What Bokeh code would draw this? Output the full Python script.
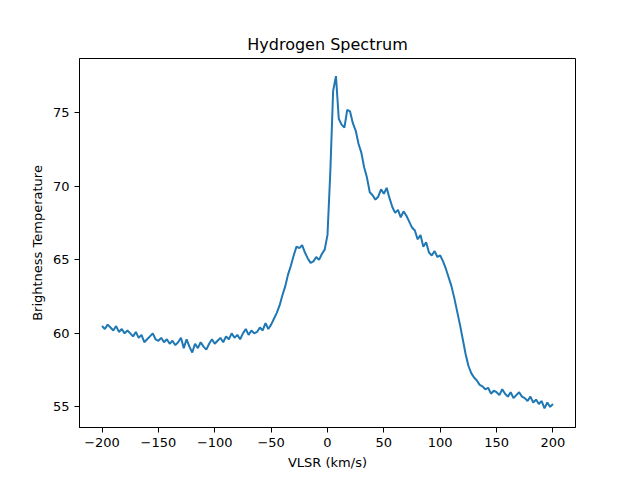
from bokeh.plotting import figure
from bokeh.models import Range1d, FixedTicker
from bokeh.embed import file_html
from bokeh.resources import INLINE

# velocity channels (km/s) and brightness temperature
velocity = [v * 2.5 for v in range(-80, 81)]
brightness = [
    60.5, 60.3, 60.6, 60.4, 60.2, 60.5, 60.1, 60.3, 60.0, 60.2,   # -200
    60.0, 59.8, 60.1, 59.7, 59.9, 59.4, 59.6, 59.8, 60.0, 59.6,   # -175
    59.5, 59.7, 59.4, 59.6, 59.3, 59.5, 59.2, 59.4, 59.7, 59.0,   # -150
    59.6, 59.1, 58.7, 59.3, 59.0, 59.4, 59.1, 58.9, 59.3, 59.6,   # -125
    59.3, 59.5, 59.7, 59.4, 59.8, 59.6, 60.0, 59.7, 59.9, 59.6,   # -100
    60.0, 60.3, 59.9, 60.2, 60.0, 60.1, 60.4, 60.2, 60.7, 60.3,   # -75
    60.6, 61.0, 61.4, 61.9, 62.6, 63.2, 64.0, 64.6, 65.3, 65.9,   # -50
    65.8, 66.0, 65.5, 65.1, 64.8, 64.9, 65.2, 65.0, 65.4, 65.7,   # -25
    66.7, 71.0, 76.5, 77.5, 74.6, 74.2, 74.0, 75.2, 75.1, 74.3,   # 0
    73.8, 72.9, 72.3, 71.3, 70.6, 69.6, 69.4, 69.1, 69.3, 69.8,   # 25
    69.5, 69.9, 69.2, 68.6, 68.2, 68.4, 67.9, 68.3, 68.0, 67.6,   # 50
    67.2, 67.0, 66.4, 66.7, 65.9, 66.2, 65.5, 65.3, 65.6, 65.2,   # 75
    65.3, 64.9, 64.4, 63.8, 63.2, 62.4, 61.5, 60.6, 59.6, 58.6,   # 100
    57.8, 57.3, 57.0, 56.8, 56.5, 56.4, 56.2, 56.3, 55.9, 56.1,   # 125
    56.0, 55.8, 56.2, 55.9, 55.7, 56.0, 55.6, 55.8, 56.0, 55.7,   # 150
    55.6, 55.4, 55.7, 55.3, 55.5, 55.2, 55.4, 54.9, 55.3, 55.0,   # 175
    55.2,                                                         # 200
]
x_ticks = [-200, -150, -100, -50, 0, 50, 100, 150, 200]
y_ticks = [55, 60, 65, 70, 75]

FONT = "DejaVu Sans"

p = figure(frame_width=496, frame_height=369, output_backend="svg",
           toolbar_location=None, title="Hydrogen Spectrum",
           x_range=Range1d(-220, 220), y_range=Range1d(53.6, 78.7),
           min_border_left=79, min_border_right=40, min_border_top=58,
           min_border_bottom=30)

p.line(velocity, brightness, line_color="#1f77b4", line_width=2)

p.title.align = "center"
p.title.text_font = FONT
p.title.text_font_size = "16px"
p.title.text_font_style = "normal"
p.title.text_color = "black"

p.grid.visible = False
p.outline_line_color = "black"
p.outline_line_width = 1
p.outline_line_alpha = 1

for ax in (p.xaxis[0], p.yaxis[0]):
    ax.major_label_text_font = FONT
    ax.major_label_text_font_size = "13px"
    ax.major_label_text_color = "black"
    ax.axis_label_text_font = FONT
    ax.axis_label_text_font_size = "13px"
    ax.axis_label_text_font_style = "normal"
    ax.axis_label_text_color = "black"
    ax.major_tick_out = 5
    ax.major_tick_in = 0
    ax.minor_tick_out = 0
    ax.minor_tick_in = 0
    ax.axis_line_color = "black"
    ax.major_tick_line_color = "black"

p.xaxis.ticker = FixedTicker(ticks=x_ticks)
p.yaxis.ticker = FixedTicker(ticks=y_ticks)
p.xaxis.axis_label = "VLSR (km/s)"
p.yaxis.axis_label = "Brightness Temperature"

open("out.html", "w").write(file_html(p, INLINE))
